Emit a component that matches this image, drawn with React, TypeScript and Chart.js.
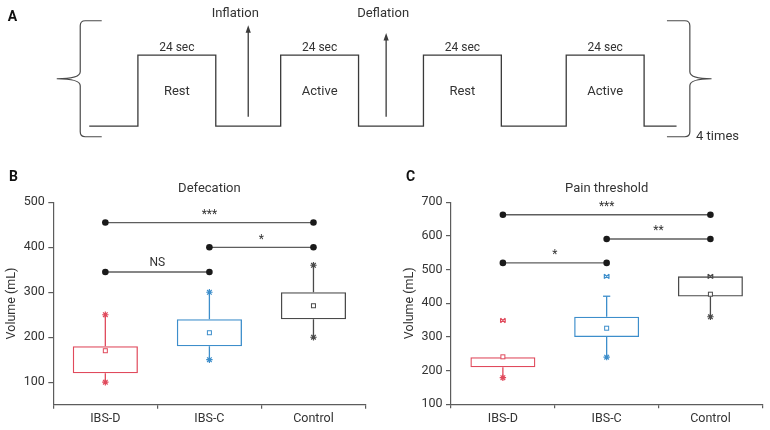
import React, { useEffect, useRef } from "react";
import { Chart, registerables } from "chart.js";

Chart.register(...registerables);

const FONT = "Roboto, 'Liberation Sans', Arial, sans-serif";
const TEXT = "#333333";
const AXIS = "#5c5c5c";
const LINE = "#3a3a3a";

// ---------- Panel A: protocol ----------
const phaseNames = ["", "Rest", "", "Active", "", "Rest", "", "Active", ""];
const phaseSeconds = [15, 24, 20, 24, 20, 24, 20, 24, 10];
const phaseLevels = [0, 1, 0, 1, 0, 1, 0, 1, 0];
const phaseDurationText = "24 sec";
const eventNames = ["Inflation", "Deflation"];
const eventTimes = [49, 91.5];
const eventArrowTops = [1.42, 1.31];
const eventLabelShift = [-13, -3];
const repeatText = "4 times";

// ---------- Panels B & C ----------
const groups = ["IBS-D", "IBS-C", "Control"];
const groupColors = ["#e04a5c", "#3d8ecb", "#4a4a4a"];

const defTitle = "Defecation";
const defTicks = [100, 200, 300, 400, 500];
const defQ1 = [120, 180, 240];
const defQ3 = [180, 240, 300];
const defMean = [170, 210, 270];
const defLow = [100, 150, 200];
const defHigh = [250, 300, 360];
const defPairs = [[0, 2], [1, 2], [0, 1]];
const defSigY = [455, 400, 345];
const defSigText = ["***", "*", "NS"];

const painTitle = "Pain threshold";
const painTicks = [100, 200, 300, 400, 500, 600, 700];
const painQ1 = [210, 300, 420];
const painQ3 = [240, 360, 480];
const painMean = [241, 326, 427];
const painLow = [179, 240, 360];
const painHigh = [240, 421, 480];
const painOutlier = [349, 480, 480];
const painPairs = [[0, 2], [1, 2], [0, 1]];
const painSigY = [663, 591, 520];
const painSigText = ["***", "**", "*"];

function drawStar(ctx: CanvasRenderingContext2D, x: number, y: number, r: number, color: string) {
  ctx.save();
  ctx.strokeStyle = color;
  ctx.lineWidth = 1.2;
  ctx.beginPath();
  ctx.moveTo(x - r, y);
  ctx.lineTo(x + r, y);
  ctx.moveTo(x, y - r);
  ctx.lineTo(x, y + r);
  const d = r * 0.72;
  ctx.moveTo(x - d, y - d);
  ctx.lineTo(x + d, y + d);
  ctx.moveTo(x - d, y + d);
  ctx.lineTo(x + d, y - d);
  ctx.stroke();
  ctx.restore();
}

function drawBowtie(ctx: CanvasRenderingContext2D, x: number, y: number, r: number, color: string) {
  ctx.save();
  ctx.strokeStyle = color;
  ctx.lineWidth = 1.2;
  ctx.beginPath();
  ctx.moveTo(x - r, y - r);
  ctx.lineTo(x + r, y + r);
  ctx.moveTo(x - r, y + r);
  ctx.lineTo(x + r, y - r);
  ctx.moveTo(x - r, y - r);
  ctx.lineTo(x - r, y + r);
  ctx.moveTo(x + r, y - r);
  ctx.lineTo(x + r, y + r);
  ctx.stroke();
  ctx.restore();
}

function textCentered(ctx: CanvasRenderingContext2D, text: string, x: number, cy: number) {
  const m = ctx.measureText(text);
  const a = m.actualBoundingBoxAscent || 0;
  const d = m.actualBoundingBoxDescent || 0;
  ctx.textBaseline = "alphabetic";
  ctx.fillText(text, x, cy + (a - d) / 2);
}

// ---------- Panel A chart ----------
function buildStepPoints() {
  const pts: { x: number; y: number }[] = [];
  let t = 0;
  phaseSeconds.forEach((d, i) => {
    pts.push({ x: t, y: phaseLevels[i] });
    t += d;
    pts.push({ x: t, y: phaseLevels[i] });
  });
  return pts;
}

const protocolPlugin = {
  id: "protocolExtras",
  afterDatasetsDraw(chart: any) {
    const ctx: CanvasRenderingContext2D = chart.ctx;
    const xs = chart.scales.x;
    const ys = chart.scales.y;
    const yLow = ys.getPixelForValue(0);
    const yHigh = ys.getPixelForValue(1);
    ctx.save();
    ctx.fillStyle = TEXT;
    ctx.strokeStyle = LINE;

    // phase labels
    let t = 0;
    phaseSeconds.forEach((d, i) => {
      const cx = xs.getPixelForValue(t + d / 2);
      if (phaseNames[i]) {
        ctx.font = `13px ${FONT}`;
        ctx.textAlign = "center";
        ctx.textBaseline = "alphabetic";
        ctx.fillText(phaseNames[i], cx, (yLow + yHigh) / 2 + 4.5);
        ctx.font = `12px ${FONT}`;
        ctx.fillText(phaseDurationText, cx, yHigh - 4.3);
      }
      t += d;
    });

    // arrows
    eventNames.forEach((name, i) => {
      const x = xs.getPixelForValue(eventTimes[i]);
      const yb = ys.getPixelForValue(0.13);
      const yt = ys.getPixelForValue(eventArrowTops[i]);
      ctx.lineWidth = 1.3;
      ctx.beginPath();
      ctx.moveTo(x, yb);
      ctx.lineTo(x, yt + 6);
      ctx.stroke();
      ctx.fillStyle = LINE;
      ctx.beginPath();
      ctx.moveTo(x, yt);
      ctx.lineTo(x - 2.6, yt + 7.5);
      ctx.lineTo(x + 2.6, yt + 7.5);
      ctx.closePath();
      ctx.fill();
      ctx.fillStyle = TEXT;
      ctx.font = `13px ${FONT}`;
      ctx.textAlign = "center";
      ctx.textBaseline = "alphabetic";
      ctx.fillText(name, x + eventLabelShift[i], ys.getPixelForValue(1.54));
    });

    // braces
    const xs0 = xs.getPixelForValue(0);
    const total = phaseSeconds.reduce((a, b) => a + b, 0);
    const xe = xs.getPixelForValue(total);
    const top = yHigh - 34.3;
    const bottom = yLow + 10.7;
    const mid = (top + bottom) / 2;
    ctx.lineWidth = 1.2;
    ctx.strokeStyle = "#4a4a4a";
    const brace = (vx: number, hookX: number, tipX: number) => {
      const s = hookX > vx ? 1 : -1;
      ctx.beginPath();
      ctx.moveTo(hookX, top);
      ctx.lineTo(vx + 5 * s, top);
      ctx.quadraticCurveTo(vx, top, vx, top + 5);
      ctx.lineTo(vx, mid - 7);
      ctx.quadraticCurveTo(vx, mid, tipX, mid);
      ctx.quadraticCurveTo(vx, mid, vx, mid + 7);
      ctx.lineTo(vx, bottom - 5);
      ctx.quadraticCurveTo(vx, bottom, vx + 5 * s, bottom);
      ctx.lineTo(hookX, bottom);
      ctx.stroke();
    };
    brace(xs0 - 9, xs0 + 12.5, xs0 - 32.5);
    brace(xe + 13.3, xe - 9.6, xe + 35);

    ctx.font = `13px ${FONT}`;
    ctx.textAlign = "left";
    ctx.fillText(repeatText, xe + 19.5, bottom + 3.5);

    ctx.font = `bold 14px ${FONT}`;
    ctx.fillStyle = "#111";
    ctx.fillText("A", 7.7, 20.7);
    ctx.restore();
  },
};

// ---------- Box charts ----------
type BoxCfg = {
  title: string;
  letter: string;
  ticks: number[];
  min: number;
  max: number;
  q1: number[];
  q3: number[];
  mean: number[];
  low: number[];
  high: number[];
  highEnd: "star" | "cap";
  outlier: number[] | null;
  pairs: number[][];
  sigY: number[];
  sigText: string[];
  yAxisW: number;
  padRight: number;
  padTop: number;
  xAxisH: number;
  titlePad: number;
  letterX: number;
};

function boxPlugin(cfg: BoxCfg) {
  return {
    id: "boxExtras",
    afterDatasetsDraw(chart: any) {
      const ctx: CanvasRenderingContext2D = chart.ctx;
      const xs = chart.scales.x;
      const ys = chart.scales.y;
      const area = chart.chartArea;
      ctx.save();
      groups.forEach((g, i) => {
        const cx = xs.getPixelForValue(i);
        const col = groupColors[i];
        ctx.strokeStyle = col;
        ctx.lineWidth = 1.3;
        const yq1 = ys.getPixelForValue(cfg.q1[i]);
        const yq3 = ys.getPixelForValue(cfg.q3[i]);
        const yl = ys.getPixelForValue(cfg.low[i]);
        if (cfg.low[i] < cfg.q1[i]) {
          ctx.beginPath();
          ctx.moveTo(cx, yq1);
          ctx.lineTo(cx, yl);
          ctx.stroke();
          drawStar(ctx, cx, yl, 3.2, col);
        }
        if (cfg.high[i] > cfg.q3[i]) {
          const yh = ys.getPixelForValue(cfg.high[i]);
          ctx.beginPath();
          ctx.moveTo(cx, yq3);
          ctx.lineTo(cx, yh);
          ctx.stroke();
          if (cfg.highEnd === "star") {
            drawStar(ctx, cx, yh, 3.2, col);
          } else {
            ctx.beginPath();
            ctx.moveTo(cx - 3.6, yh);
            ctx.lineTo(cx + 3.6, yh);
            ctx.stroke();
          }
        }
        if (cfg.outlier) {
          drawBowtie(ctx, cx, ys.getPixelForValue(cfg.outlier[i]), 2.3, col);
        }
        const ym = ys.getPixelForValue(cfg.mean[i]);
        ctx.lineWidth = 1;
        ctx.fillStyle = "#fff";
        ctx.fillRect(cx - 2, ym - 2, 4, 4);
        ctx.strokeRect(cx - 2, ym - 2, 4, 4);
      });

      ctx.fillStyle = TEXT;
      ctx.textAlign = "center";
      ctx.font = `12px ${FONT}`;
      cfg.pairs.forEach((p, k) => {
        const mx = (xs.getPixelForValue(p[0]) + xs.getPixelForValue(p[1])) / 2;
        textCentered(ctx, cfg.sigText[k], mx, ys.getPixelForValue(cfg.sigY[k]) - 10.6);
      });

      ctx.font = `13px ${FONT}`;
      ctx.textBaseline = "alphabetic";
      ctx.fillText(cfg.title, (area.left + area.right) / 2, 32.3);

      ctx.font = `bold 14px ${FONT}`;
      ctx.fillStyle = "#111";
      ctx.textAlign = "left";
      ctx.fillText(cfg.letter, cfg.letterX, 20.7);
      ctx.restore();
    },
  };
}

function makeBoxChart(canvas: HTMLCanvasElement, cfg: BoxCfg) {
  const datasets: any[] = [
    {
      type: "bar",
      data: cfg.q1.map((v, i) => [v, cfg.q3[i]]),
      backgroundColor: "rgba(255,255,255,0)",
      borderColor: groupColors,
      borderWidth: 1.3,
      borderSkipped: false,
      barPercentage: 0.626,
      categoryPercentage: 1,
      order: 2,
    },
    ...cfg.pairs.map((p, k) => ({
      type: "line",
      data: [
        { x: groups[p[0]], y: cfg.sigY[k] },
        { x: groups[p[1]], y: cfg.sigY[k] },
      ],
      borderColor: "#5e5e5e",
      borderWidth: 1.3,
      pointRadius: 3.3,
      pointBackgroundColor: "#1a1a1a",
      pointBorderColor: "#1a1a1a",
      pointBorderWidth: 0,
      order: 1,
    })),
  ];
  return new Chart(canvas, {
    type: "bar",
    data: { labels: groups, datasets },
    options: {
      responsive: false,
      animation: false,
      devicePixelRatio: 1,
      layout: { padding: { left: 0, right: cfg.padRight, top: cfg.padTop, bottom: 0 } },
      plugins: {
        legend: { display: false },
        tooltip: { enabled: false },
        title: { display: false },
      },
      scales: {
        x: {
          type: "category",
          offset: true,
          grid: {
            offset: true,
            drawOnChartArea: false,
            drawTicks: true,
            tickLength: 4,
            color: AXIS,
            lineWidth: 1.2,
          },
          border: { color: AXIS, width: 1.2 },
          ticks: { color: TEXT, font: { family: FONT, size: 12.5 }, padding: 3, maxRotation: 0 },
          afterFit: (s: any) => {
            s.height = cfg.xAxisH;
          },
        },
        y: {
          type: "linear",
          min: cfg.min,
          max: cfg.max,
          afterBuildTicks: (s: any) => {
            s.ticks = cfg.ticks.map((v) => ({ value: v }));
          },
          grid: {
            drawOnChartArea: false,
            drawTicks: true,
            tickLength: 5,
            color: AXIS,
            lineWidth: 1.2,
          },
          border: { color: AXIS, width: 1.2 },
          ticks: { color: TEXT, font: { family: FONT, size: 12.5 }, padding: 3.5 },
          title: {
            display: true,
            text: "Volume (mL)",
            color: TEXT,
            font: { family: FONT, size: 12.5 },
            padding: { top: cfg.titlePad, bottom: 0 },
          },
          afterFit: (s: any) => {
            s.width = cfg.yAxisW;
          },
        },
      },
    } as any,
    plugins: [boxPlugin(cfg)],
  });
}

export default function App() {
  const aRef = useRef<HTMLCanvasElement>(null);
  const bRef = useRef<HTMLCanvasElement>(null);
  const cRef = useRef<HTMLCanvasElement>(null);

  useEffect(() => {
    const charts: Chart[] = [];
    if (aRef.current) {
      charts.push(
        new Chart(aRef.current, {
          type: "line",
          data: {
            datasets: [
              {
                data: buildStepPoints(),
                borderColor: LINE,
                borderWidth: 1.3,
                pointRadius: 0,
                tension: 0,
                fill: false,
              },
            ],
          },
          options: {
            responsive: false,
            animation: false,
            devicePixelRatio: 1,
            layout: { padding: 0 },
            plugins: { legend: { display: false }, tooltip: { enabled: false } },
            scales: {
              x: { type: "linear", display: false, min: -27.5, max: 209.8 },
              y: { type: "linear", display: false, min: -0.478, max: 1.775 },
            },
          } as any,
          plugins: [protocolPlugin],
        })
      );
    }
    if (bRef.current) {
      charts.push(
        makeBoxChart(bRef.current, {
          title: defTitle,
          letter: "B",
          ticks: defTicks,
          min: 50,
          max: 500,
          q1: defQ1,
          q3: defQ3,
          mean: defMean,
          low: defLow,
          high: defHigh,
          highEnd: "star",
          outlier: null,
          pairs: defPairs,
          sigY: defSigY,
          sigText: defSigText,
          yAxisW: 53.3,
          padRight: 19.5,
          padTop: 42.3,
          xAxisH: 25.3,
          titlePad: 4.5,
          letterX: 9,
        })
      );
    }
    if (cRef.current) {
      charts.push(
        makeBoxChart(cRef.current, {
          title: painTitle,
          letter: "C",
          ticks: painTicks,
          min: 100,
          max: 700,
          q1: painQ1,
          q3: painQ3,
          mean: painMean,
          low: painLow,
          high: painHigh,
          highEnd: "cap",
          outlier: painOutlier,
          pairs: painPairs,
          sigY: painSigY,
          sigText: painSigText,
          yAxisW: 66,
          padRight: 7.7,
          padTop: 42.3,
          xAxisH: 25.7,
          titlePad: 17.5,
          letterX: 21,
        })
      );
    }
    return () => charts.forEach((c) => c.destroy());
  }, []);

  const abs = (left: number, top: number): React.CSSProperties => ({
    position: "absolute",
    left,
    top,
    display: "block",
  });

  return (
    <div style={{ position: "fixed", left: 0, top: 0, width: 770, height: 430, background: "#fff" }}>
      <canvas ref={aRef} width={770} height={160} style={abs(0, 0)} />
      <canvas ref={bRef} width={385} height={270} style={abs(0, 160)} />
      <canvas ref={cRef} width={385} height={270} style={abs(385, 160)} />
    </div>
  );
}
